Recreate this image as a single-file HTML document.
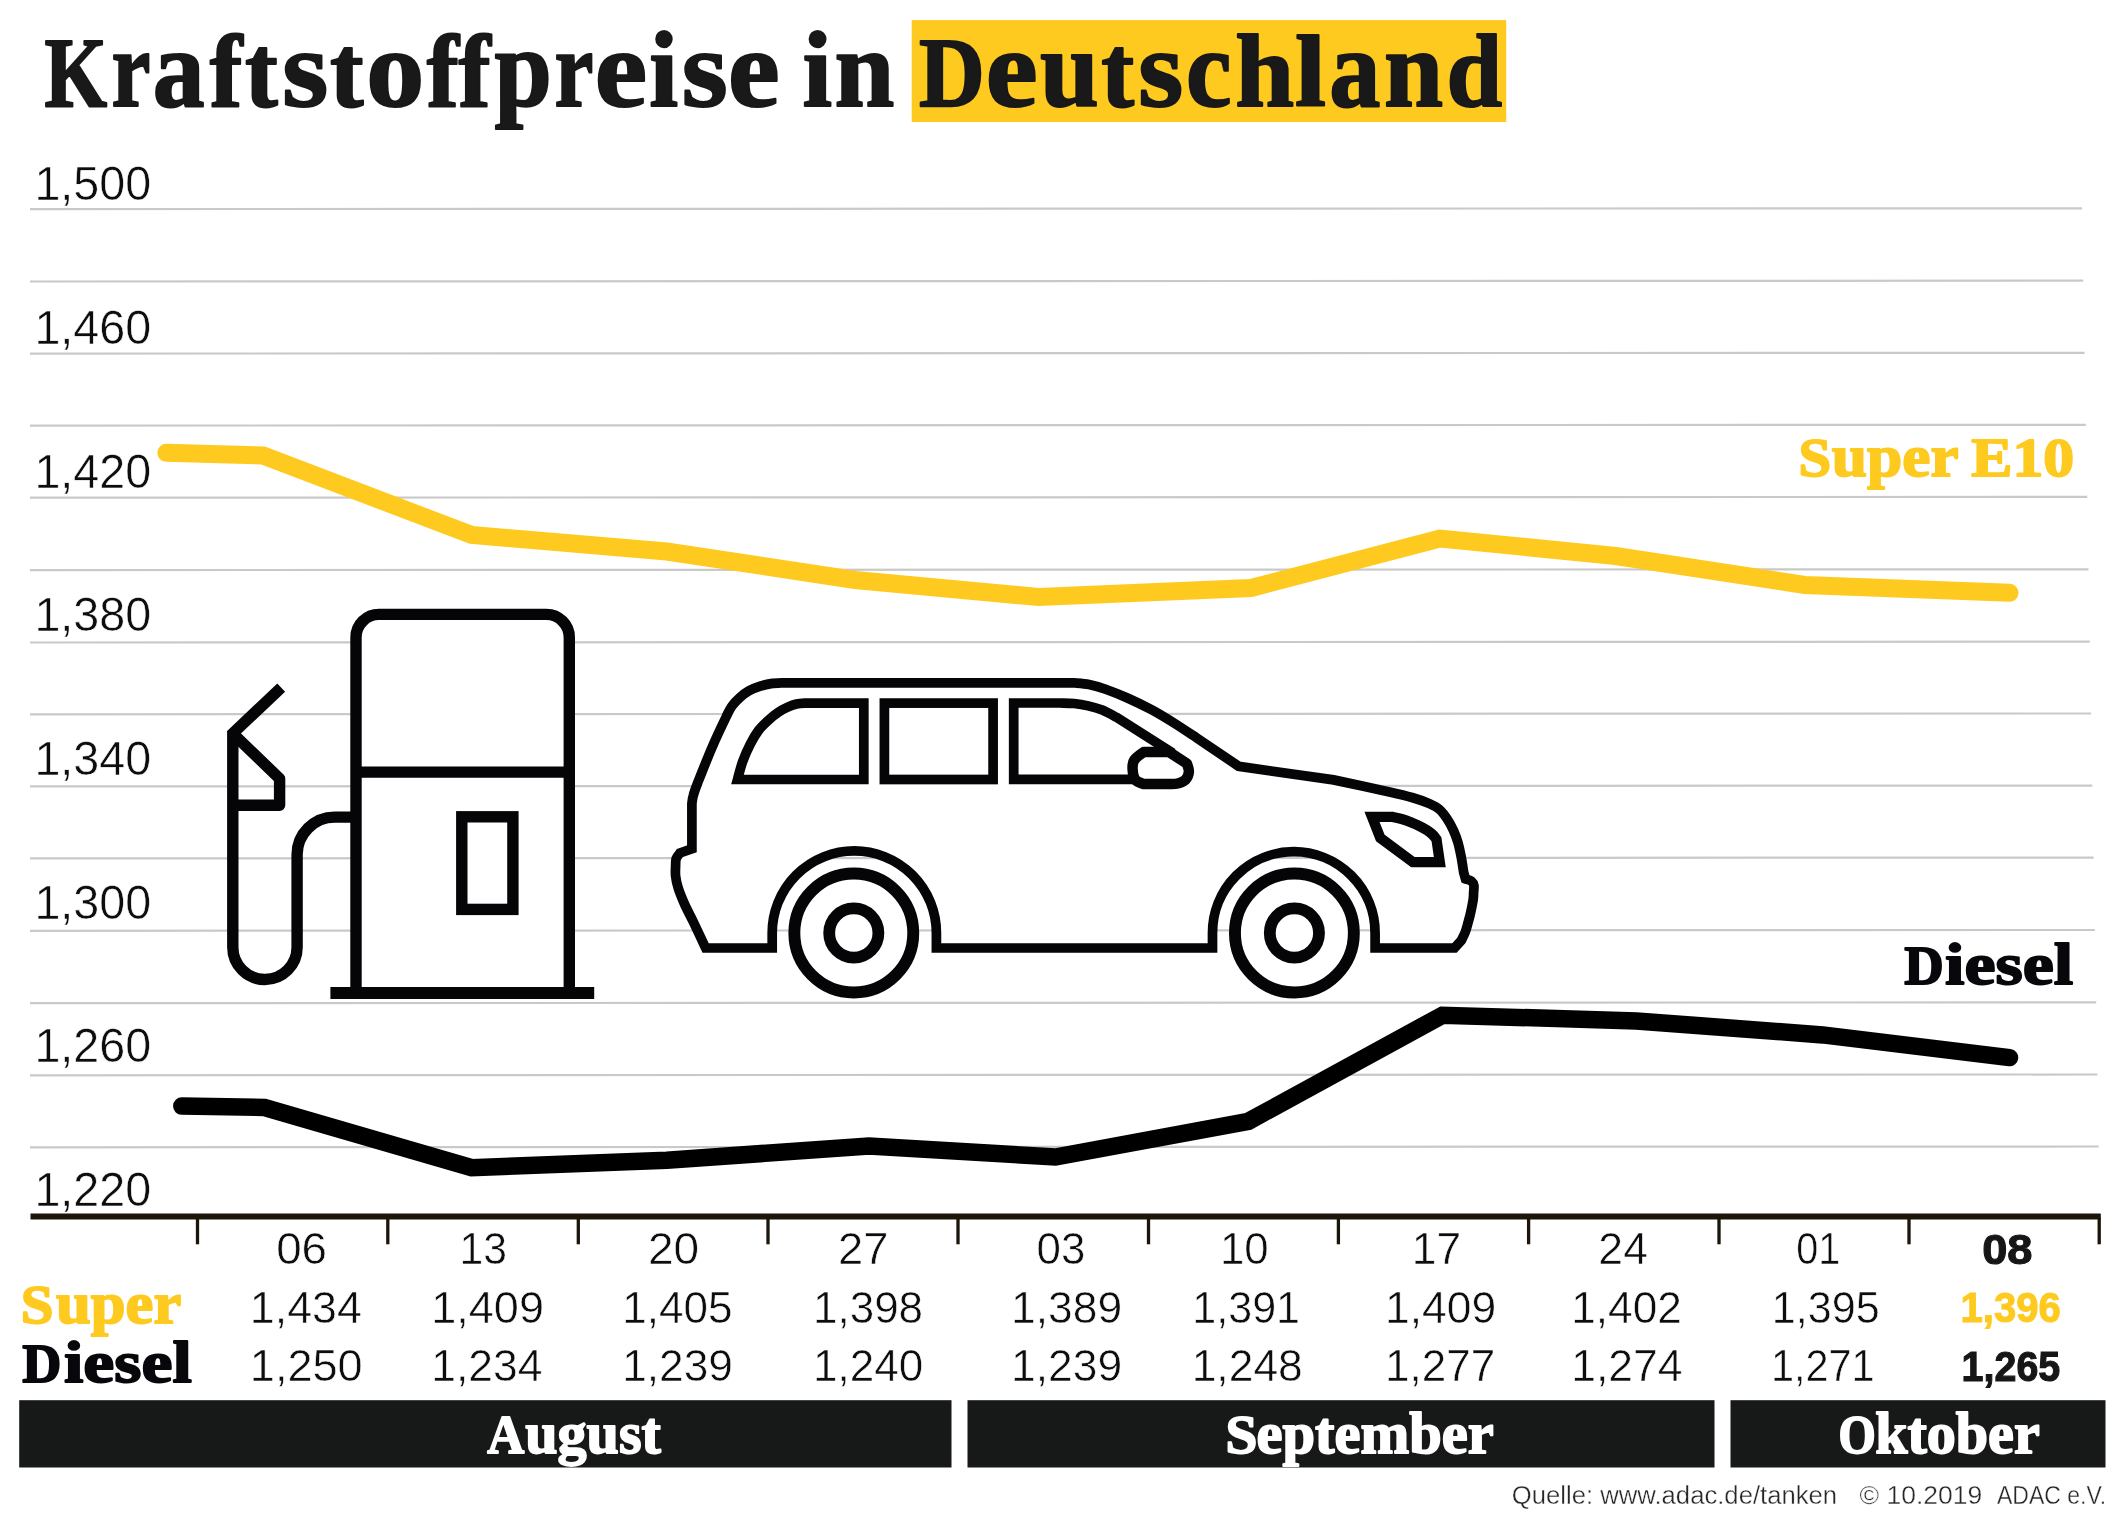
<!DOCTYPE html>
<html><head><meta charset="utf-8"><title>Kraftstoffpreise in Deutschland</title>
<style>
html,body{margin:0;padding:0;background:#fff;}
body{width:2126px;height:1535px;overflow:hidden;font-family:"Liberation Sans",sans-serif;}
svg{display:block;position:absolute;left:0;top:0;}
.sans{font-family:"Liberation Sans",sans-serif;}
.slab{font-family:"Liberation Serif",serif;font-weight:bold;}
</style></head><body>
<svg width="2126" height="1535" viewBox="0 0 2126 1535" style="will-change:transform">
<rect x="0" y="0" width="2126" height="1535" fill="#ffffff"/>

<g stroke="#c9c9c9" stroke-width="2.2" fill="none">
<line x1="30" y1="209.1" x2="2082.0" y2="208.3"/>
<line x1="30" y1="281.5" x2="2083.3" y2="280.7"/>
<line x1="30" y1="353.6" x2="2084.6" y2="352.8"/>
<line x1="30" y1="425.6" x2="2085.9" y2="424.8"/>
<line x1="30" y1="497.7" x2="2087.2" y2="496.9"/>
<line x1="30" y1="570.1" x2="2088.4" y2="569.3"/>
<line x1="30" y1="642.5" x2="2089.7" y2="641.7"/>
<line x1="30" y1="714.3" x2="2091.0" y2="713.5"/>
<line x1="30" y1="786.4" x2="2092.3" y2="785.6"/>
<line x1="30" y1="858.4" x2="2093.6" y2="857.6"/>
<line x1="30" y1="930.8" x2="2094.9" y2="930.0"/>
<line x1="30" y1="1003.2" x2="2096.2" y2="1002.4"/>
<line x1="30" y1="1075.3" x2="2097.5" y2="1074.5"/>
<line x1="30" y1="1147.3" x2="2098.8" y2="1146.5"/>
</g>
<text class="sans" x="34.40" y="199.7" font-size="49" fill="#0d0d0d" textLength="116.75" lengthAdjust="spacingAndGlyphs" stroke="#fff" stroke-width="0.55">1,500</text>
<text class="sans" x="34.40" y="344.1" font-size="49" fill="#0d0d0d" textLength="116.75" lengthAdjust="spacingAndGlyphs" stroke="#fff" stroke-width="0.55">1,460</text>
<text class="sans" x="34.40" y="487.5" font-size="49" fill="#0d0d0d" textLength="116.75" lengthAdjust="spacingAndGlyphs" stroke="#fff" stroke-width="0.55">1,420</text>
<text class="sans" x="34.40" y="630.9" font-size="49" fill="#0d0d0d" textLength="116.75" lengthAdjust="spacingAndGlyphs" stroke="#fff" stroke-width="0.55">1,380</text>
<text class="sans" x="34.40" y="774.8" font-size="49" fill="#0d0d0d" textLength="116.75" lengthAdjust="spacingAndGlyphs" stroke="#fff" stroke-width="0.55">1,340</text>
<text class="sans" x="34.40" y="918.5" font-size="49" fill="#0d0d0d" textLength="116.75" lengthAdjust="spacingAndGlyphs" stroke="#fff" stroke-width="0.55">1,300</text>
<text class="sans" x="34.40" y="1061.9" font-size="49" fill="#0d0d0d" textLength="116.75" lengthAdjust="spacingAndGlyphs" stroke="#fff" stroke-width="0.55">1,260</text>
<text class="sans" x="34.40" y="1205.6" font-size="49" fill="#0d0d0d" textLength="116.75" lengthAdjust="spacingAndGlyphs" stroke="#fff" stroke-width="0.55">1,220</text>
<rect x="911.7" y="20.1" width="594.5" height="101.9" fill="#FECA1F"/>
<text class="slab" x="44.49" y="106.0" font-size="98.5" fill="#191919" textLength="62.64" lengthAdjust="spacingAndGlyphs" stroke="#181818" stroke-width="2.0" stroke-linejoin="round">K</text>
<text class="slab" x="111.38" y="106.0" font-size="111" fill="#191919" textLength="38.99" lengthAdjust="spacingAndGlyphs" stroke="#181818" stroke-width="2.0" stroke-linejoin="round">r</text>
<text class="slab" x="152.63" y="106.0" font-size="111" fill="#191919" textLength="51.82" lengthAdjust="spacingAndGlyphs" stroke="#181818" stroke-width="2.0" stroke-linejoin="round">a</text>
<text class="slab" x="209.67" y="106.0" font-size="103" fill="#191919" textLength="32.60" lengthAdjust="spacingAndGlyphs" stroke="#181818" stroke-width="2.0" stroke-linejoin="round">f</text>
<text class="slab" x="245.02" y="106.0" font-size="104" fill="#191919" textLength="32.77" lengthAdjust="spacingAndGlyphs" stroke="#181818" stroke-width="2.0" stroke-linejoin="round">t</text>
<text class="slab" x="282.15" y="106.0" font-size="111" fill="#191919" textLength="46.00" lengthAdjust="spacingAndGlyphs" stroke="#181818" stroke-width="2.0" stroke-linejoin="round">s</text>
<text class="slab" x="329.99" y="106.0" font-size="104" fill="#191919" textLength="33.51" lengthAdjust="spacingAndGlyphs" stroke="#181818" stroke-width="2.0" stroke-linejoin="round">t</text>
<text class="slab" x="366.35" y="106.0" font-size="111" fill="#191919" textLength="58.00" lengthAdjust="spacingAndGlyphs" stroke="#181818" stroke-width="2.0" stroke-linejoin="round">o</text>
<text class="slab" x="426.78" y="106.0" font-size="103" fill="#191919" textLength="32.11" lengthAdjust="spacingAndGlyphs" stroke="#181818" stroke-width="2.0" stroke-linejoin="round">f</text>
<text class="slab" x="458.58" y="106.0" font-size="103" fill="#191919" textLength="32.11" lengthAdjust="spacingAndGlyphs" stroke="#181818" stroke-width="2.0" stroke-linejoin="round">f</text>
<text class="slab" x="494.41" y="106.0" font-size="111" fill="#191919" textLength="57.33" lengthAdjust="spacingAndGlyphs" stroke="#181818" stroke-width="2.0" stroke-linejoin="round">p</text>
<text class="slab" x="554.38" y="106.0" font-size="111" fill="#191919" textLength="38.99" lengthAdjust="spacingAndGlyphs" stroke="#181818" stroke-width="2.0" stroke-linejoin="round">r</text>
<text class="slab" x="594.87" y="106.0" font-size="111" fill="#191919" textLength="52.34" lengthAdjust="spacingAndGlyphs" stroke="#181818" stroke-width="2.0" stroke-linejoin="round">e</text>
<text class="slab" x="649.27" y="106.0" font-size="107" fill="#191919" textLength="28.83" lengthAdjust="spacingAndGlyphs" stroke="#181818" stroke-width="2.0" stroke-linejoin="round">i</text>
<text class="slab" x="681.65" y="106.0" font-size="111" fill="#191919" textLength="46.00" lengthAdjust="spacingAndGlyphs" stroke="#181818" stroke-width="2.0" stroke-linejoin="round">s</text>
<text class="slab" x="728.13" y="106.0" font-size="111" fill="#191919" textLength="51.64" lengthAdjust="spacingAndGlyphs" stroke="#181818" stroke-width="2.0" stroke-linejoin="round">e</text>
<text class="slab" x="802.61" y="106.0" font-size="107" fill="#191919" textLength="29.52" lengthAdjust="spacingAndGlyphs" stroke="#181818" stroke-width="2.0" stroke-linejoin="round">i</text>
<text class="slab" x="834.44" y="106.0" font-size="111" fill="#191919" textLength="59.83" lengthAdjust="spacingAndGlyphs" stroke="#181818" stroke-width="2.0" stroke-linejoin="round">n</text>
<text class="slab" x="919.00" y="106.0" font-size="98.5" fill="#191919" textLength="65.82" lengthAdjust="spacingAndGlyphs" stroke="#181818" stroke-width="2.0" stroke-linejoin="round">D</text>
<text class="slab" x="985.71" y="106.0" font-size="111" fill="#191919" textLength="51.87" lengthAdjust="spacingAndGlyphs" stroke="#181818" stroke-width="2.0" stroke-linejoin="round">e</text>
<text class="slab" x="1040.11" y="106.0" font-size="111" fill="#191919" textLength="58.86" lengthAdjust="spacingAndGlyphs" stroke="#181818" stroke-width="2.0" stroke-linejoin="round">u</text>
<text class="slab" x="1101.22" y="106.0" font-size="104" fill="#191919" textLength="32.88" lengthAdjust="spacingAndGlyphs" stroke="#181818" stroke-width="2.0" stroke-linejoin="round">t</text>
<text class="slab" x="1138.33" y="106.0" font-size="111" fill="#191919" textLength="44.96" lengthAdjust="spacingAndGlyphs" stroke="#181818" stroke-width="2.0" stroke-linejoin="round">s</text>
<text class="slab" x="1186.01" y="106.0" font-size="111" fill="#191919" textLength="45.54" lengthAdjust="spacingAndGlyphs" stroke="#181818" stroke-width="2.0" stroke-linejoin="round">c</text>
<text class="slab" x="1235.26" y="106.0" font-size="104" fill="#191919" textLength="58.79" lengthAdjust="spacingAndGlyphs" stroke="#181818" stroke-width="2.0" stroke-linejoin="round">h</text>
<text class="slab" x="1294.98" y="106.0" font-size="101" fill="#191919" textLength="30.91" lengthAdjust="spacingAndGlyphs" stroke="#181818" stroke-width="2.0" stroke-linejoin="round">l</text>
<text class="slab" x="1329.37" y="106.0" font-size="111" fill="#191919" textLength="51.16" lengthAdjust="spacingAndGlyphs" stroke="#181818" stroke-width="2.0" stroke-linejoin="round">a</text>
<text class="slab" x="1383.98" y="106.0" font-size="111" fill="#191919" textLength="59.07" lengthAdjust="spacingAndGlyphs" stroke="#181818" stroke-width="2.0" stroke-linejoin="round">n</text>
<text class="slab" x="1446.40" y="106.0" font-size="104" fill="#191919" textLength="55.62" lengthAdjust="spacingAndGlyphs" stroke="#181818" stroke-width="2.0" stroke-linejoin="round">d</text>
<g fill="none" stroke="#050508" stroke-width="11.4">
<path d="M281.2 687.6 L232.8 733.4 L232.8 947.3 A32.15 32.15 0 0 0 297.1 947.3 L297.1 854.7 A37.6 37.6 0 0 1 334.7 817.1 L352 817.1" stroke-linejoin="miter" stroke-miterlimit="10"/>
<path d="M234 734.6 L279.6 778.6 L279.6 805.3 L232.8 805.3" stroke-linejoin="round"/>
<path d="M356 993 L356 637.4 A23 23 0 0 1 379 614.4 L546.3 614.4 A23 23 0 0 1 569.3 637.4 L569.3 993 Z" fill="#fff"/>
<line x1="356" y1="772.1" x2="569.3" y2="772.1"/>
<rect x="461.8" y="816.8" width="51.1" height="92.6" />
<line x1="330.4" y1="993.1" x2="594.2" y2="993.1" stroke-width="12"/>
</g>
<g fill="none" stroke="#050508" stroke-width="9.7" stroke-linejoin="miter">
<path d="M705.6 948.0 C703.6 943.7 697.0 929.5 693.5 922.2 C690.0 914.9 687.0 909.7 684.5 904.0 C682.0 898.3 679.7 892.7 678.2 888.0 C676.7 883.3 676.0 879.6 675.6 876.0 C675.2 872.4 675.5 869.3 675.6 866.4 C675.7 863.5 675.5 860.7 676.2 858.5 C676.9 856.3 679.4 853.9 680.0 853.0 L691.9 848.8 L691.9 803.6 C692.1 802.2 692.3 798.9 693.3 795.5 C694.2 792.1 694.4 791.2 697.6 783.1 C700.8 775.0 707.6 757.6 712.4 746.6 C717.1 735.6 722.8 723.8 726.1 717.0 C729.4 710.2 729.7 709.2 732.0 706.0 C734.3 702.8 737.0 700.1 739.8 697.6 C742.6 695.1 745.6 692.7 749.0 690.8 C752.4 688.9 756.6 687.4 760.3 686.2 C764.0 685.0 767.2 684.2 771.0 683.6 C774.8 683.0 781.1 682.9 783.1 682.8 L1073.7 682.8 C1076.2 683.1 1083.7 683.4 1089.0 684.5 C1094.3 685.6 1099.1 686.9 1105.6 689.2 C1112.1 691.5 1120.4 694.8 1128.0 698.2 C1135.6 701.6 1143.5 705.4 1151.2 709.5 C1158.9 713.6 1166.4 718.2 1174.0 723.0 C1181.6 727.8 1193.0 735.5 1196.8 738.0 L1238.7 766.3 L1333.6 779.9 C1343.1 782.0 1377.5 789.3 1390.6 792.2 C1403.7 795.1 1405.5 795.6 1412.0 797.5 C1418.5 799.4 1424.8 801.6 1429.4 803.6 C1434.0 805.6 1436.5 806.8 1439.5 809.5 C1442.5 812.2 1445.3 816.1 1447.6 819.6 C1449.9 823.1 1451.8 826.7 1453.5 830.5 C1455.2 834.3 1456.6 838.0 1457.9 842.4 C1459.2 846.8 1460.2 852.0 1461.2 857.0 C1462.2 862.0 1463.2 869.6 1463.6 872.1 L1465.5 879.0 C1466.5 879.4 1470.1 880.1 1471.5 881.2 C1472.9 882.3 1473.6 883.5 1473.9 885.5 C1474.2 887.5 1473.7 890.7 1473.6 893.0 C1473.5 895.3 1473.6 896.4 1473.2 899.4 C1472.8 902.4 1471.8 907.2 1471.0 911.0 C1470.2 914.8 1469.2 918.7 1468.2 922.2 C1467.2 925.7 1466.5 929.0 1465.3 932.0 C1464.1 935.0 1462.0 939.1 1461.3 940.5 L1454.5 948.0 L1375.1 948.0 L1375.1 933.0 A81.3 81.3 0 0 0 1212.5 933 L1212.5 948.0 L936.4 948.0 L936.4 933.0 A82.1 82.1 0 0 0 772.2 933 L772.2 948.0 Z" fill="#fff"/>
<path d="M737.5 779.5 C738.3 776.6 740.4 767.9 742.5 762.0 C744.6 756.1 747.4 749.6 750.1 744.4 C752.8 739.1 755.4 734.6 758.5 730.5 C761.6 726.4 765.8 722.7 769.0 719.7 C772.2 716.7 774.9 714.6 778.0 712.5 C781.1 710.4 784.6 708.6 787.7 707.2 C790.8 705.8 793.5 704.7 796.5 704.0 C799.5 703.3 804.3 703.2 805.9 703.1 L863.8 703.1 L863.8 779.5 Z"/>
<rect x="884.4" y="703.1" width="108.7" height="76.4"/>
<path d="M1150 779.4 L1013.7 779.4 L1013.7 703 L1060 703 C1062.3 703.1 1069.4 703.0 1074.1 703.5 C1078.8 704.0 1083.5 704.8 1088.2 705.9 C1092.9 707.0 1097.6 708.2 1102.3 710.1 C1107.0 712.0 1114.1 716.0 1116.4 717.2 L1172.9 753.2"/>
<path d="M1143.7 752 L1169.1 752 L1187 763.7 C1187.3 765.0 1189.1 769.0 1188.9 771.7 C1188.7 774.4 1187.5 777.7 1185.6 779.7 C1183.7 781.7 1180.1 782.8 1177.6 783.5 C1175.1 784.2 1171.7 784.0 1170.5 784.1 L1143.7 784.1 C1142.3 783.4 1137.2 782.2 1135.3 779.7 C1133.4 777.2 1132.8 772.7 1132.6 769.4 C1132.4 766.1 1132.4 762.9 1134.3 760.0 C1136.2 757.1 1142.1 753.3 1143.7 752.0 Z" fill="#fff" stroke-width="10.5" stroke-linejoin="round"/>
<path d="M1372 816.9 L1392.8 816.9 C1394.4 817.3 1399.4 818.3 1402.5 819.2 C1405.6 820.1 1408.5 821.2 1411.4 822.4 C1414.3 823.6 1417.2 824.9 1420.0 826.3 C1422.8 827.7 1425.7 829.3 1427.9 830.8 C1430.1 832.2 1431.6 833.6 1433.0 835.0 C1434.4 836.4 1435.9 838.7 1436.5 839.4 L1439.8 862.1 L1412.9 862.1 L1380.3 838 Z" stroke-width="10.3"/>
</g>
<circle cx="853.8" cy="933" r="59.45" fill="#fff" stroke="#050508" stroke-width="11.9"/>
<circle cx="853.8" cy="933" r="24.6" fill="#fff" stroke="#050508" stroke-width="11.8"/>
<circle cx="1294.4" cy="933" r="59.45" fill="#fff" stroke="#050508" stroke-width="11.9"/>
<circle cx="1294.4" cy="933" r="24.6" fill="#fff" stroke="#050508" stroke-width="11.8"/>
<polyline points="166.3,452.7 263.2,455.5 471.6,535.0 666.8,551.5 855.0,580.0 1038.6,597.0 1251.0,588.0 1439.8,538.5 1615.7,556.0 1804.6,585.0 2009.5,592.8" fill="none" stroke="#FECA1F" stroke-width="18" stroke-linecap="round" stroke-linejoin="miter"/>
<polyline points="181.8,1106.1 264.6,1107.5 471.6,1167.7 666.8,1160.2 869.0,1146.0 1055.4,1157.0 1248.4,1121.3 1442.4,1015.2 1636.4,1020.9 1822.7,1034.9 2009.5,1057.6" fill="none" stroke="#000" stroke-width="17.5" stroke-linecap="round" stroke-linejoin="miter"/>
<text class="slab" x="1798.62" y="475.5" font-size="54.5" fill="#FECA1F" textLength="32.59" lengthAdjust="spacingAndGlyphs" stroke="#FECA1F" stroke-width="1.8" stroke-linejoin="round">S</text>
<text class="slab" x="1831.85" y="475.5" font-size="59.5" fill="#FECA1F" textLength="126.78" lengthAdjust="spacingAndGlyphs" stroke="#FECA1F" stroke-width="1.8" stroke-linejoin="round">uper</text>
<text class="slab" x="1971.32" y="475.5" font-size="54.5" fill="#FECA1F" textLength="102.86" lengthAdjust="spacingAndGlyphs" stroke="#FECA1F" stroke-width="1.8" stroke-linejoin="round">E10</text>
<text class="slab" x="1904.24" y="983.8" font-size="54.5" fill="#08080c" textLength="39.47" lengthAdjust="spacingAndGlyphs" stroke="#08080c" stroke-width="1.8" stroke-linejoin="round">D</text>
<text class="slab" x="1945.02" y="983.8" font-size="59.5" fill="#08080c" textLength="128.31" lengthAdjust="spacingAndGlyphs" stroke="#08080c" stroke-width="1.8" stroke-linejoin="round">iesel</text>
<line x1="30.5" y1="1216.4" x2="2100.8" y2="1216.4" stroke="#1b150a" stroke-width="6"/>
<g stroke="#1b150a" stroke-width="3.3">
<line x1="197.5" y1="1218" x2="197.5" y2="1244.3"/>
<line x1="387.8" y1="1218" x2="387.8" y2="1244.3"/>
<line x1="578.3" y1="1218" x2="578.3" y2="1244.3"/>
<line x1="768.0" y1="1218" x2="768.0" y2="1244.3"/>
<line x1="958.0" y1="1218" x2="958.0" y2="1244.3"/>
<line x1="1148.5" y1="1218" x2="1148.5" y2="1244.3"/>
<line x1="1338.4" y1="1218" x2="1338.4" y2="1244.3"/>
<line x1="1528.6" y1="1218" x2="1528.6" y2="1244.3"/>
<line x1="1719.0" y1="1218" x2="1719.0" y2="1244.3"/>
<line x1="1909.0" y1="1218" x2="1909.0" y2="1244.3"/>
<line x1="2099.2" y1="1218" x2="2099.2" y2="1244.3"/>
</g>
<text class="sans" x="276.17" y="1264.2" font-size="43.5" fill="#0d0d0d" textLength="50.88" lengthAdjust="spacingAndGlyphs" stroke="#fff" stroke-width="0.55">06</text>
<text class="sans" x="459.60" y="1264.2" font-size="43.5" fill="#0d0d0d" textLength="47.52" lengthAdjust="spacingAndGlyphs" stroke="#fff" stroke-width="0.55">13</text>
<text class="sans" x="648.00" y="1264.2" font-size="43.5" fill="#0d0d0d" textLength="51.24" lengthAdjust="spacingAndGlyphs" stroke="#fff" stroke-width="0.55">20</text>
<text class="sans" x="837.93" y="1264.2" font-size="43.5" fill="#0d0d0d" textLength="50.44" lengthAdjust="spacingAndGlyphs" stroke="#fff" stroke-width="0.55">27</text>
<text class="sans" x="1036.64" y="1264.2" font-size="43.5" fill="#0d0d0d" textLength="48.82" lengthAdjust="spacingAndGlyphs" stroke="#fff" stroke-width="0.55">03</text>
<text class="sans" x="1220.01" y="1264.2" font-size="43.5" fill="#0d0d0d" textLength="48.73" lengthAdjust="spacingAndGlyphs" stroke="#fff" stroke-width="0.55">10</text>
<text class="sans" x="1411.87" y="1264.2" font-size="43.5" fill="#0d0d0d" textLength="49.35" lengthAdjust="spacingAndGlyphs" stroke="#fff" stroke-width="0.55">17</text>
<text class="sans" x="1598.37" y="1264.2" font-size="43.5" fill="#0d0d0d" textLength="49.56" lengthAdjust="spacingAndGlyphs" stroke="#fff" stroke-width="0.55">24</text>
<text class="sans" x="1796.22" y="1264.2" font-size="43.5" fill="#0d0d0d" textLength="44.06" lengthAdjust="spacingAndGlyphs" stroke="#fff" stroke-width="0.55">01</text>
<text class="sans" font-weight="bold" x="1982.24" y="1264.2" font-size="42.5" fill="#161616" textLength="50.27" lengthAdjust="spacingAndGlyphs" stroke="#161616" stroke-width="1.1">08</text>
<text class="sans" x="249.84" y="1322.6" font-size="44" fill="#0d0d0d" textLength="112.09" lengthAdjust="spacingAndGlyphs" stroke="#fff" stroke-width="0.55">1,434</text>
<text class="sans" x="431.22" y="1322.6" font-size="44" fill="#0d0d0d" textLength="112.71" lengthAdjust="spacingAndGlyphs" stroke="#fff" stroke-width="0.55">1,409</text>
<text class="sans" x="622.20" y="1322.6" font-size="44" fill="#0d0d0d" textLength="110.27" lengthAdjust="spacingAndGlyphs" stroke="#fff" stroke-width="0.55">1,405</text>
<text class="sans" x="813.00" y="1322.6" font-size="44" fill="#0d0d0d" textLength="110.07" lengthAdjust="spacingAndGlyphs" stroke="#fff" stroke-width="0.55">1,398</text>
<text class="sans" x="1011.07" y="1322.6" font-size="44" fill="#0d0d0d" textLength="111.13" lengthAdjust="spacingAndGlyphs" stroke="#fff" stroke-width="0.55">1,389</text>
<text class="sans" x="1192.37" y="1322.6" font-size="44" fill="#0d0d0d" textLength="107.67" lengthAdjust="spacingAndGlyphs" stroke="#fff" stroke-width="0.55">1,391</text>
<text class="sans" x="1385.07" y="1322.6" font-size="44" fill="#0d0d0d" textLength="111.13" lengthAdjust="spacingAndGlyphs" stroke="#fff" stroke-width="0.55">1,409</text>
<text class="sans" x="1571.29" y="1322.6" font-size="44" fill="#0d0d0d" textLength="110.52" lengthAdjust="spacingAndGlyphs" stroke="#fff" stroke-width="0.55">1,402</text>
<text class="sans" x="1771.87" y="1322.6" font-size="44" fill="#0d0d0d" textLength="107.86" lengthAdjust="spacingAndGlyphs" stroke="#fff" stroke-width="0.55">1,395</text>
<text class="sans" x="249.82" y="1381.3" font-size="44" fill="#0d0d0d" textLength="112.88" lengthAdjust="spacingAndGlyphs" stroke="#fff" stroke-width="0.55">1,250</text>
<text class="sans" x="431.27" y="1381.3" font-size="44" fill="#0d0d0d" textLength="111.26" lengthAdjust="spacingAndGlyphs" stroke="#fff" stroke-width="0.55">1,234</text>
<text class="sans" x="622.18" y="1381.3" font-size="44" fill="#0d0d0d" textLength="110.82" lengthAdjust="spacingAndGlyphs" stroke="#fff" stroke-width="0.55">1,239</text>
<text class="sans" x="813.00" y="1381.3" font-size="44" fill="#0d0d0d" textLength="110.15" lengthAdjust="spacingAndGlyphs" stroke="#fff" stroke-width="0.55">1,240</text>
<text class="sans" x="1011.07" y="1381.3" font-size="44" fill="#0d0d0d" textLength="111.13" lengthAdjust="spacingAndGlyphs" stroke="#fff" stroke-width="0.55">1,239</text>
<text class="sans" x="1191.67" y="1381.3" font-size="44" fill="#0d0d0d" textLength="111.12" lengthAdjust="spacingAndGlyphs" stroke="#fff" stroke-width="0.55">1,248</text>
<text class="sans" x="1385.10" y="1381.3" font-size="44" fill="#0d0d0d" textLength="110.10" lengthAdjust="spacingAndGlyphs" stroke="#fff" stroke-width="0.55">1,277</text>
<text class="sans" x="1571.27" y="1381.3" font-size="44" fill="#0d0d0d" textLength="111.26" lengthAdjust="spacingAndGlyphs" stroke="#fff" stroke-width="0.55">1,274</text>
<text class="sans" x="1770.99" y="1381.3" font-size="44" fill="#0d0d0d" textLength="103.68" lengthAdjust="spacingAndGlyphs" stroke="#fff" stroke-width="0.55">1,271</text>
<text class="sans" font-weight="bold" x="1960.54" y="1322.2" font-size="42" fill="#FECA1F" textLength="100.31" lengthAdjust="spacingAndGlyphs" stroke="#FECA1F" stroke-width="1.1">1,396</text>
<text class="sans" font-weight="bold" x="1961.59" y="1381.3" font-size="42" fill="#161616" textLength="98.65" lengthAdjust="spacingAndGlyphs" stroke="#161616" stroke-width="1.1">1,265</text>
<text class="slab" x="20.71" y="1323.0" font-size="54.5" fill="#FECA1F" textLength="32.71" lengthAdjust="spacingAndGlyphs" stroke="#FECA1F" stroke-width="1.8" stroke-linejoin="round">S</text>
<text class="slab" x="55.96" y="1323.0" font-size="59.5" fill="#FECA1F" textLength="125.25" lengthAdjust="spacingAndGlyphs" stroke="#FECA1F" stroke-width="1.8" stroke-linejoin="round">uper</text>
<text class="slab" x="22.35" y="1381.8" font-size="54.5" fill="#08080c" textLength="39.14" lengthAdjust="spacingAndGlyphs" stroke="#08080c" stroke-width="1.8" stroke-linejoin="round">D</text>
<text class="slab" x="63.93" y="1381.8" font-size="59.5" fill="#08080c" textLength="128.00" lengthAdjust="spacingAndGlyphs" stroke="#08080c" stroke-width="1.8" stroke-linejoin="round">iesel</text>
<rect x="19.2" y="1400.2" width="932.3" height="67.3" fill="#171818"/>
<rect x="967.5" y="1400.2" width="747" height="67.3" fill="#171818"/>
<rect x="1730.5" y="1400.2" width="375" height="67.3" fill="#171818"/>
<text class="slab" x="487.19" y="1452.8" font-size="54.5" fill="#ffffff" textLength="37.08" lengthAdjust="spacingAndGlyphs" stroke="#ffffff" stroke-width="1.8" stroke-linejoin="round">A</text>
<text class="slab" x="525.33" y="1452.8" font-size="59.5" fill="#ffffff" textLength="135.49" lengthAdjust="spacingAndGlyphs" stroke="#ffffff" stroke-width="1.8" stroke-linejoin="round">ugust</text>
<text class="slab" x="1225.49" y="1452.9" font-size="54.5" fill="#ffffff" textLength="31.87" lengthAdjust="spacingAndGlyphs" stroke="#ffffff" stroke-width="1.8" stroke-linejoin="round">S</text>
<text class="slab" x="1256.55" y="1452.9" font-size="59.5" fill="#ffffff" textLength="237.09" lengthAdjust="spacingAndGlyphs" stroke="#ffffff" stroke-width="1.8" stroke-linejoin="round">eptember</text>
<text class="slab" x="1838.42" y="1452.9" font-size="54.5" fill="#ffffff" textLength="37.27" lengthAdjust="spacingAndGlyphs" stroke="#ffffff" stroke-width="1.8" stroke-linejoin="round">O</text>
<text class="slab" x="1875.15" y="1452.9" font-size="59.5" fill="#ffffff" textLength="164.55" lengthAdjust="spacingAndGlyphs" stroke="#ffffff" stroke-width="1.8" stroke-linejoin="round">ktober</text>
<text class="sans" x="1511.78" y="1504.0" font-size="25.5" fill="#262626" textLength="325.38" lengthAdjust="spacingAndGlyphs" stroke="#fff" stroke-width="0.35">Quelle: www.adac.de/tanken</text>
<text class="sans" x="1859.60" y="1504.0" font-size="25.5" fill="#262626" textLength="122.64" lengthAdjust="spacingAndGlyphs" stroke="#fff" stroke-width="0.35">© 10.2019</text>
<text class="sans" x="1996.94" y="1504.0" font-size="25.5" fill="#262626" textLength="109.15" lengthAdjust="spacingAndGlyphs" stroke="#fff" stroke-width="0.35">ADAC e.V.</text>
</svg></body></html>
